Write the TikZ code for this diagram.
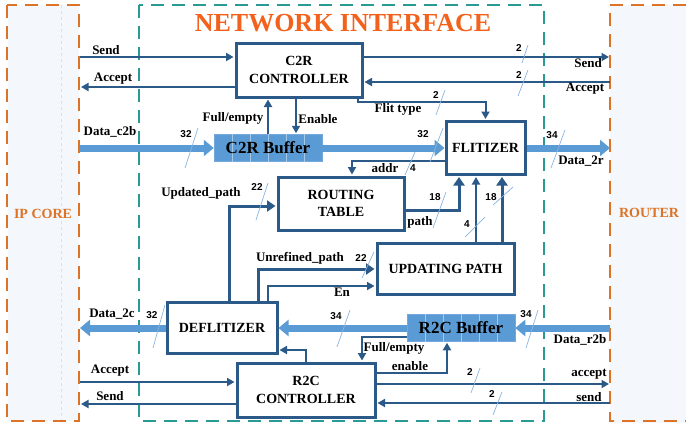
\documentclass[tikz,border=0pt]{standalone}
\usepackage{fontspec}
\setmainfont{Liberation Serif}
\newfontfamily\numfont{Liberation Sans}
\usetikzlibrary{arrows.meta,calc}
\definecolor{dblue}{HTML}{2C5A88}
\definecolor{lblue}{HTML}{5B9BD5}
\definecolor{slashc}{HTML}{8AB4E0}
\definecolor{orng}{HTML}{DC7326}
\definecolor{titleor}{HTML}{F2621C}
\definecolor{tealc}{HTML}{2A9A94}
\definecolor{bgc}{HTML}{F4F7FB}
\begin{document}
\begin{tikzpicture}[x=1pt,y=-1pt,
  blk/.style={draw=dblue,line width=3pt,fill=white,align=center,font=\bfseries\fontsize{14}{17.5}\selectfont,inner sep=0pt},
  buf/.style={fill=lblue,draw=lblue!85!white,line width=0.5pt,inner sep=0pt,font=\bfseries\fontsize{17}{19}\selectfont},
  lbl/.style={font=\bfseries\fontsize{13}{15}\selectfont,inner sep=0pt},
  num/.style={font=\numfont\bfseries\fontsize{10}{12}\selectfont,inner sep=0pt},
  side/.style={font=\bfseries\fontsize{14}{16}\selectfont,text=orng,inner sep=0pt},
  arr/.style={draw=dblue,line width=2pt,shorten >=1pt,-{Triangle[length=7.5pt,width=8pt]}},
  arrb/.style={draw=dblue,line width=3pt,shorten >=1pt,-{Triangle[length=8.5pt,width=11pt]}},
  darr/.style={draw=lblue,line width=7pt,-{Triangle[length=10pt,width=16pt]}},
  slash/.style={draw=slashc,line width=0.7pt},
  odash/.style={draw=orng,line width=2.5pt,dash pattern=on 13pt off 8pt},
  tdash/.style={draw=tealc,line width=2.5pt,dash pattern=on 13pt off 8pt},
]
\useasboundingbox (0,0) rectangle (686,423);
% regions
\fill[bgc] (8,5) rectangle (79,421);
\fill[bgc] (610,5) rectangle (686,423);
\draw[gray!25,line width=0.5pt,dashed] (61,5) -- (61,421);
\draw[odash] (7,5) rectangle (79,421);
\draw[odash] (686,5) -- (610,5) -- (610,421) -- (686,421);
\draw[tdash] (139,5) rectangle (544,421);
\node[font=\bfseries\fontsize{26}{28}\selectfont,text=titleor,inner sep=0pt] (title) at (343,23) {NETWORK INTERFACE};
\node[side] (ipcore) at (43,214) {IP CORE};
\node[side] (router) at (649,213) {ROUTER};

% blocks
\node[blk,minimum width=126pt,minimum height=54pt] (c2r) at (299,70) {C2R\\CONTROLLER};
\node[blk,minimum width=79pt,minimum height=53pt] (flit) at (485.5,148) {FLITIZER};
\node[blk,minimum width=126pt,minimum height=53pt] (rt) at (341,203.5) {ROUTING\\TABLE};
\node[blk,minimum width=137pt,minimum height=51pt] (up) at (445.5,268.5) {UPDATING PATH};
\node[blk,minimum width=110pt,minimum height=51pt] (defl) at (222,328) {DEFLITIZER};
\node[blk,minimum width=138pt,minimum height=54pt] (r2c) at (306,390) {R2C\\CONTROLLER};
\node[buf,minimum width=108pt,minimum height=27pt] (c2rbuf) at (268,148) {};
\node[buf,minimum width=108pt,minimum height=27pt] (r2cbuf) at (461,328) {};
\foreach \b in {c2rbuf,r2cbuf}{
  \foreach \i in {1,...,5}{
    \draw[lblue!55!white,line width=0.5pt] ($(\b.north west)+(18*\i,0)$) -- ($(\b.south west)+(18*\i,0)$);
  }
}
\node[font=\bfseries\fontsize{17}{19}\selectfont,inner sep=0pt] (c2rbuft) at (c2rbuf) {C2R Buffer};
\node[font=\bfseries\fontsize{17}{19}\selectfont,inner sep=0pt] (r2cbuft) at (r2cbuf) {R2C Buffer};

% boundary points
\coordinate (ipsend1) at (80,57);
\coordinate (ipacc1) at (80,87);
\coordinate (rsend1) at (610,57);
\coordinate (racc1) at (610,82);
\coordinate (ipdata1) at (80,148);
\coordinate (rdata1) at (610,148);
\coordinate (ipdata2) at (80,328);
\coordinate (rdata2) at (610,328);
\coordinate (racc2) at (610,384);
\coordinate (rsend2) at (610,403);
\coordinate (ipacc2) at (80,382);
\coordinate (ipsend2) at (80,404);

% C2R controller signals
\draw[arr] (ipsend1) -- (ipsend1 -| c2r.west);
\draw[arr] (ipacc1 -| c2r.west) -- (ipacc1);
\draw[arr] (rsend1 -| c2r.east) -- (rsend1);
\draw[arr] (racc1) -- (racc1 -| c2r.east);
\draw[arr] (358,0 |- c2r.south) -- (358,102) -| (flit.north);
\draw[arr] (268,0 |- c2rbuf.north) -- (268,0 |- c2r.south);
\draw[arr] (296,0 |- c2r.south) -- (296,0 |- c2rbuf.north);

% data path to router
\draw[darr] (ipdata1) -- (c2rbuf.west);
\draw[darr] (c2rbuf.east) -- (c2rbuf.east -| flit.west);
\draw[darr] (flit.east |- rdata1) -- (rdata1);

% routing / updating
\draw[arr] (flit.west |- 0,161) -- (352,161) -- (352,0 |- rt.north);
\draw[arrb] (rt.east |- 0,210) -- (459,210) -- (459,0 |- flit.south);
\draw[arr] (476,0 |- up.north) -- (476,0 |- flit.south);
\draw[arrb] (502,0 |- up.north) -- (502,0 |- flit.south);
\draw[arrb] (229,0 |- defl.north) -- (229,206) -- (rt.west |- 0,206);
\draw[arrb] (258,0 |- defl.north) -- (258,269) -- (up.west |- 0,269);
\draw[arr] (268,0 |- defl.north) -- (268,286) -- (up.west |- 0,286);

% data path to core
\draw[darr] (rdata2) -- (r2cbuf.east);
\draw[darr] (r2cbuf.west) -- (r2cbuf.west -| defl.east);
\draw[darr] (defl.west) -- (ipdata2);

% R2C controller signals
\draw[arr] (306,0 |- r2c.north) -- (306,350) -- (defl.east |- 0,350);
\draw[arr] (r2cbuf.west |- 0,337) -- (362,337) -- (362,0 |- r2c.north);
\draw[arr] (r2c.east |- 0,373) -- (447,373) -- (447,0 |- r2cbuf.south);
\draw[arr] (r2c.east |- racc2) -- (racc2);
\draw[arr] (rsend2) -- (rsend2 -| r2c.east);
\draw[arr] (ipacc2) -- (ipacc2 -| r2c.west);
\draw[arr] (ipsend2 -| r2c.west) -- (ipsend2);

% labels
\node[lbl] (lsend1) at (106,50) {Send};
\node[lbl] (lacc1) at (113,79) {Accept};
\node[lbl] (lfe1) at (233,118) {Full/empty};
\node[lbl] (len1) at (318,119) {Enable};
\node[lbl] (lft) at (398,109) {Flit type};
\node[lbl] (rsendl) at (588,63) {Send};
\node[lbl] (raccl) at (585,89) {Accept};
\node[lbl] (ldc2b) at (110,132) {Data\_c2b};
\node[lbl] (ld2r) at (581,161) {Data\_2r};
\node[lbl] (laddr) at (385,168) {addr};
\node[lbl] (lpath) at (420,222) {path};
\node[lbl] (lupd) at (201,193) {Updated\_path};
\node[lbl] (lunr) at (300,258) {Unrefined\_path};
\node[lbl] (len2) at (342,292) {En};
\node[lbl] (ld2c) at (112,314) {Data\_2c};
\node[lbl] (ldr2b) at (580,340) {Data\_r2b};
\node[lbl] (lfe2) at (394,348) {Full/empty};
\node[lbl] (len3) at (410,366) {enable};
\node[lbl] (racc2l) at (589,374) {accept};
\node[lbl] (rsend2l) at (589,397) {send};
\node[lbl] (lacc2) at (110,371) {Accept};
\node[lbl] (lsend2) at (110,396) {Send};

% bus width marks
\draw[slash] (198,128) -- (185,168);  \node[num] (n1) at (186,134) {32};
\draw[slash] (443,128) -- (430,162);  \node[num] (n2) at (423,134) {32};
\draw[slash] (565,130) -- (551,168);  \node[num] (n3) at (552,135) {34};
\draw[slash] (528,45) -- (522,63);    \node[num] (n4) at (519,48) {2};
\draw[slash] (528,70) -- (518,96);    \node[num] (n5) at (519,75) {2};
\draw[slash] (445,90) -- (436,115);   \node[num] (n6) at (436,95) {2};
\draw[slash] (415,152) -- (405,175);  \node[num] (n7) at (413,168) {4};
\draw[slash] (446,192) -- (433,228);  \node[num] (n8) at (435,197) {18};
\draw[slash] (485,217) -- (465,237);  \node[num] (n9) at (467,224) {4};
\draw[slash] (513,187) -- (493,205);  \node[num] (n10) at (491,197) {18};
\draw[slash] (268,183) -- (256,220);  \node[num] (n11) at (257,187) {22};
\draw[slash] (374,252) -- (362,278);  \node[num] (n12) at (361,258) {22};
\draw[slash] (165,305) -- (153,348);  \node[num] (n13) at (152,315) {32};
\draw[slash] (350,310) -- (337,347);  \node[num] (n14) at (336,316) {34};
\draw[slash] (538,310) -- (526,348);  \node[num] (n15) at (526,314) {34};
\draw[slash] (480,368) -- (471,393);  \node[num] (n16) at (470,372) {2};
\draw[slash] (502,392) -- (493,415);  \node[num] (n17) at (492,394) {2};
\end{tikzpicture}
\end{document}
